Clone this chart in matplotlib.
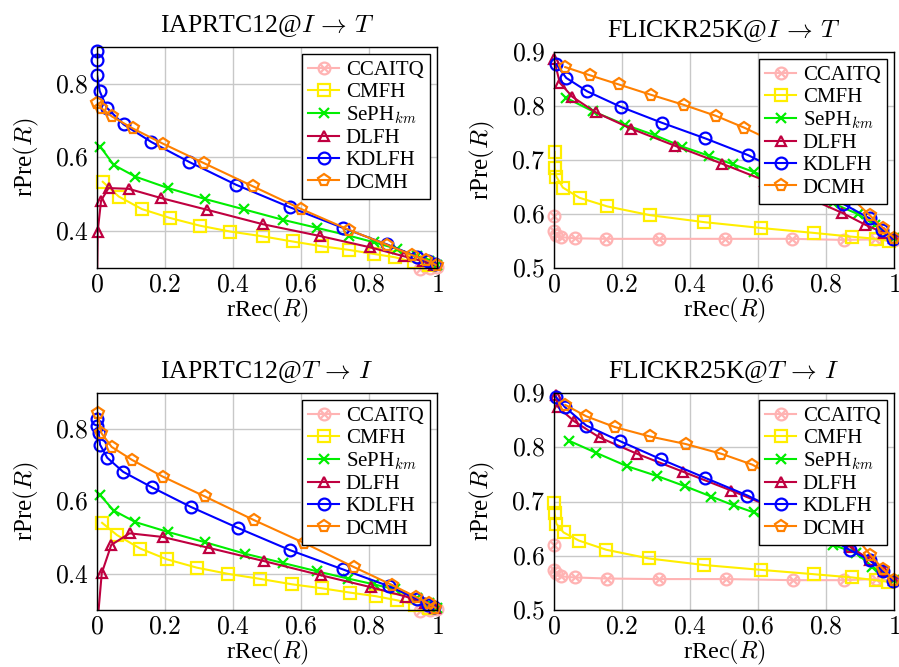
import numpy as np
import matplotlib
matplotlib.use('Agg')
import matplotlib.pyplot as plt
from matplotlib.lines import Line2D
from matplotlib.path import Path

plt.rcParams['font.family'] = ['Liberation Serif', 'DejaVu Serif']
plt.rcParams['mathtext.fontset'] = 'cm'

# ---------------- data: rPre(R) vs rRec(R) ----------------
methods = ['CCAITQ', 'CMFH', 'SePH$_{km}$', 'DLFH', 'KDLFH', 'DCMH']

# IAPRTC12, I -> T
iap_it_ccaitq_x = [0.0, 0.3, 0.6, 0.85, 0.95, 0.98, 1.0]
iap_it_ccaitq_y = [0.27, 0.275, 0.28, 0.29, 0.298, 0.300, 0.302]
iap_it_cmfh_x = [0.017, 0.064, 0.132, 0.214, 0.302, 0.392, 0.487, 0.575, 0.662, 0.742, 0.816, 0.877, 0.931, 0.975]
iap_it_cmfh_y = [0.534, 0.494, 0.460, 0.436, 0.415, 0.399, 0.386, 0.372, 0.359, 0.349, 0.338, 0.329, 0.316, 0.307]
iap_it_seph_x = [0.01, 0.049, 0.113, 0.209, 0.319, 0.433, 0.546, 0.647, 0.740, 0.814, 0.882, 0.94, 0.975, 1.0]
iap_it_seph_y = [0.629, 0.580, 0.548, 0.517, 0.487, 0.459, 0.431, 0.409, 0.388, 0.370, 0.352, 0.332, 0.318, 0.307]
iap_it_dlfh_x = [0.0, 0.002, 0.012, 0.034, 0.093, 0.188, 0.324, 0.487, 0.655, 0.804, 0.902, 0.96, 0.99]
iap_it_dlfh_y = [0.25, 0.399, 0.483, 0.517, 0.515, 0.490, 0.458, 0.419, 0.387, 0.356, 0.332, 0.318, 0.308]
iap_it_kdlfh_x = [0.0, 0.0, 0.0, 0.008, 0.029, 0.078, 0.160, 0.271, 0.409, 0.567, 0.723, 0.853, 0.941, 0.973, 0.995]
iap_it_kdlfh_y = [0.888, 0.866, 0.825, 0.780, 0.735, 0.690, 0.642, 0.588, 0.526, 0.465, 0.409, 0.364, 0.331, 0.318, 0.312]
iap_it_dcmh_x = [0.0, 0.011, 0.043, 0.105, 0.193, 0.316, 0.458, 0.601, 0.740, 0.853, 0.927, 0.969, 1.0]
iap_it_dcmh_y = [0.749, 0.735, 0.712, 0.679, 0.638, 0.584, 0.522, 0.460, 0.404, 0.363, 0.335, 0.321, 0.307]

# FLICKR25K, I -> T
fl_it_ccaitq_x = [0.0, 0.0, 0.007, 0.022, 0.061, 0.154, 0.308, 0.504, 0.701, 0.852, 0.945, 1.0]
fl_it_ccaitq_y = [0.597, 0.569, 0.562, 0.557, 0.555, 0.554, 0.554, 0.554, 0.554, 0.552, 0.553, 0.551]
fl_it_cmfh_x = [0.002, 0.002, 0.007, 0.026, 0.075, 0.157, 0.281, 0.441, 0.610, 0.764, 0.876, 0.948, 0.984]
fl_it_cmfh_y = [0.715, 0.686, 0.669, 0.649, 0.630, 0.614, 0.598, 0.585, 0.574, 0.565, 0.558, 0.554, 0.550]
fl_it_seph_x = [0.036, 0.115, 0.210, 0.296, 0.376, 0.455, 0.526, 0.587, 0.66, 0.74, 0.82, 0.893, 0.943, 1.0]
fl_it_seph_y = [0.815, 0.790, 0.765, 0.746, 0.725, 0.708, 0.692, 0.678, 0.66, 0.64, 0.62, 0.600, 0.580, 0.555]
fl_it_dlfh_x = [0.0, 0.017, 0.054, 0.123, 0.227, 0.357, 0.495, 0.62, 0.74, 0.848, 0.916, 0.97, 1.0]
fl_it_dlfh_y = [0.887, 0.843, 0.817, 0.788, 0.758, 0.726, 0.693, 0.662, 0.632, 0.602, 0.580, 0.565, 0.555]
fl_it_kdlfh_x = [0.007, 0.036, 0.098, 0.198, 0.317, 0.445, 0.571, 0.72, 0.85, 0.928, 0.966, 0.997]
fl_it_kdlfh_y = [0.877, 0.852, 0.827, 0.798, 0.769, 0.740, 0.709, 0.662, 0.619, 0.592, 0.571, 0.554]
fl_it_dcmh_x = [0.033, 0.105, 0.190, 0.284, 0.382, 0.475, 0.559, 0.66, 0.76, 0.85, 0.928, 0.968, 1.0]
fl_it_dcmh_y = [0.872, 0.857, 0.840, 0.821, 0.802, 0.782, 0.760, 0.73, 0.69, 0.645, 0.598, 0.574, 0.556]

# IAPRTC12, T -> I
iap_ti_ccaitq_x = [0.0, 0.3, 0.6, 0.85, 0.95, 0.98, 1.0]
iap_ti_ccaitq_y = [0.27, 0.275, 0.28, 0.29, 0.298, 0.300, 0.302]
iap_ti_cmfh_x = [0.015, 0.059, 0.127, 0.206, 0.294, 0.385, 0.480, 0.574, 0.662, 0.745, 0.821, 0.882, 0.936, 0.975]
iap_ti_cmfh_y = [0.541, 0.507, 0.470, 0.440, 0.417, 0.400, 0.386, 0.371, 0.360, 0.348, 0.338, 0.327, 0.315, 0.306]
iap_ti_seph_x = [0.01, 0.049, 0.113, 0.208, 0.319, 0.434, 0.547, 0.647, 0.738, 0.814, 0.877, 0.94, 0.975, 1.0]
iap_ti_seph_y = [0.617, 0.575, 0.543, 0.516, 0.487, 0.456, 0.430, 0.407, 0.387, 0.371, 0.357, 0.333, 0.318, 0.305]
iap_ti_dlfh_x = [0.0, 0.014, 0.042, 0.096, 0.193, 0.328, 0.492, 0.659, 0.806, 0.909, 0.966, 0.995]
iap_ti_dlfh_y = [0.25, 0.402, 0.480, 0.512, 0.502, 0.472, 0.435, 0.396, 0.363, 0.337, 0.318, 0.306]
iap_ti_kdlfh_x = [0.0, 0.0, 0.005, 0.009, 0.030, 0.077, 0.162, 0.276, 0.414, 0.569, 0.724, 0.858, 0.941, 0.974, 0.992]
iap_ti_kdlfh_y = [0.829, 0.808, 0.790, 0.757, 0.721, 0.682, 0.639, 0.585, 0.527, 0.465, 0.412, 0.366, 0.331, 0.315, 0.309]
iap_ti_dcmh_x = [0.002, 0.013, 0.043, 0.103, 0.193, 0.317, 0.463, 0.61, 0.755, 0.868, 0.938, 0.975, 0.995]
iap_ti_dcmh_y = [0.844, 0.789, 0.751, 0.715, 0.669, 0.614, 0.548, 0.485, 0.419, 0.369, 0.336, 0.318, 0.306]

# FLICKR25K, T -> I
fl_ti_ccaitq_x = [0.0, 0.0, 0.005, 0.020, 0.061, 0.156, 0.309, 0.507, 0.703, 0.852, 0.946, 1.0]
fl_ti_ccaitq_y = [0.620, 0.574, 0.568, 0.562, 0.560, 0.558, 0.557, 0.557, 0.555, 0.555, 0.557, 0.554]
fl_ti_cmfh_x = [0.0, 0.002, 0.007, 0.028, 0.073, 0.154, 0.279, 0.440, 0.608, 0.764, 0.877, 0.946, 0.982]
fl_ti_cmfh_y = [0.697, 0.678, 0.659, 0.643, 0.628, 0.611, 0.595, 0.583, 0.574, 0.566, 0.560, 0.555, 0.552]
fl_ti_seph_x = [0.044, 0.123, 0.215, 0.303, 0.386, 0.463, 0.528, 0.587, 0.66, 0.74, 0.82, 0.889, 0.936, 1.0]
fl_ti_seph_y = [0.812, 0.790, 0.765, 0.747, 0.728, 0.709, 0.693, 0.680, 0.66, 0.64, 0.62, 0.605, 0.580, 0.555]
fl_ti_dlfh_x = [0.005, 0.012, 0.059, 0.134, 0.244, 0.379, 0.522, 0.65, 0.77, 0.87, 0.93, 0.97, 1.0]
fl_ti_dlfh_y = [0.897, 0.874, 0.848, 0.818, 0.788, 0.755, 0.720, 0.687, 0.652, 0.617, 0.592, 0.572, 0.555]
fl_ti_kdlfh_x = [0.005, 0.032, 0.095, 0.195, 0.314, 0.443, 0.569, 0.72, 0.872, 0.928, 0.968, 0.997]
fl_ti_kdlfh_y = [0.893, 0.874, 0.840, 0.811, 0.778, 0.744, 0.711, 0.665, 0.610, 0.592, 0.571, 0.554]
fl_ti_dcmh_x = [0.033, 0.095, 0.180, 0.281, 0.387, 0.492, 0.583, 0.68, 0.78, 0.87, 0.930, 0.968, 1.0]
fl_ti_dcmh_y = [0.878, 0.857, 0.837, 0.820, 0.806, 0.788, 0.768, 0.735, 0.695, 0.648, 0.602, 0.575, 0.556]

# ---------------- styles ----------------
# circle with a diagonal cross (otimes)
d = np.sqrt(0.5)
cross = Path([[-d, -d], [d, d], [-d, d], [d, -d]],
             [Path.MOVETO, Path.LINETO, Path.MOVETO, Path.LINETO])
otimes = Path.make_compound_path(Path.unit_circle(), cross)

colors = ['#ffb3b3', '#ffee00', '#00ee00', '#bf0040', '#0000ff', '#ff8000']
markers = [otimes, 's', 'x', '^', 'o', 'p']
msizes = [8.5, 8.0, 6.5, 7.5, 8.5, 8.5]

arrow = '$\\,\\rightarrow\\,$'
panels = [
    ('IAPRTC12@$I$' + arrow + '$T$', (0.3, 0.9), [0.4, 0.6, 0.8],
     [(iap_it_ccaitq_x, iap_it_ccaitq_y), (iap_it_cmfh_x, iap_it_cmfh_y),
      (iap_it_seph_x, iap_it_seph_y), (iap_it_dlfh_x, iap_it_dlfh_y),
      (iap_it_kdlfh_x, iap_it_kdlfh_y), (iap_it_dcmh_x, iap_it_dcmh_y)]),
    ('FLICKR25K@$I$' + arrow + '$T$', (0.5, 0.9), [0.5, 0.6, 0.7, 0.8, 0.9],
     [(fl_it_ccaitq_x, fl_it_ccaitq_y), (fl_it_cmfh_x, fl_it_cmfh_y),
      (fl_it_seph_x, fl_it_seph_y), (fl_it_dlfh_x, fl_it_dlfh_y),
      (fl_it_kdlfh_x, fl_it_kdlfh_y), (fl_it_dcmh_x, fl_it_dcmh_y)]),
    ('IAPRTC12@$T$' + arrow + '$I$', (0.3, 0.9), [0.4, 0.6, 0.8],
     [(iap_ti_ccaitq_x, iap_ti_ccaitq_y), (iap_ti_cmfh_x, iap_ti_cmfh_y),
      (iap_ti_seph_x, iap_ti_seph_y), (iap_ti_dlfh_x, iap_ti_dlfh_y),
      (iap_ti_kdlfh_x, iap_ti_kdlfh_y), (iap_ti_dcmh_x, iap_ti_dcmh_y)]),
    ('FLICKR25K@$T$' + arrow + '$I$', (0.5, 0.9), [0.5, 0.6, 0.7, 0.8, 0.9],
     [(fl_ti_ccaitq_x, fl_ti_ccaitq_y), (fl_ti_cmfh_x, fl_ti_cmfh_y),
      (fl_ti_seph_x, fl_ti_seph_y), (fl_ti_dlfh_x, fl_ti_dlfh_y),
      (fl_ti_kdlfh_x, fl_ti_kdlfh_y), (fl_ti_dcmh_x, fl_ti_dcmh_y)]),
]

# axes boxes in pixels: left, top, right, bottom
W, H = 899, 667
boxes = [(97, 47, 437, 268), (554, 52, 894, 268),
         (97, 393, 437, 610), (554, 393, 894, 610)]

fig = plt.figure(figsize=(W / 100, H / 100), dpi=100, facecolor='white')

for (title, ylim, yticks, series), (l, t, r, b) in zip(panels, boxes):
    ax = fig.add_axes([l / W, (H - b) / H, (r - l) / W, (b - t) / H])

    for i, (xs, ys) in enumerate(series):
        xs = np.asarray(xs)
        ys = np.asarray(ys)
        ax.plot(xs, ys, color=colors[i], lw=1.5, zorder=3 + i)
        # marks inside the y range are drawn without clipping
        keep = ys >= ylim[0] - 0.004
        ax.plot(xs[keep], ys[keep], ls='none', marker=markers[i],
                ms=msizes[i], mfc='none', mec=colors[i], mew=1.6,
                clip_on=False, zorder=3 + i)

    ax.set_xlim(0, 1)
    ax.set_ylim(*ylim)
    xt = [0, 0.2, 0.4, 0.6, 0.8, 1]
    ax.set_xticks(xt, labels=['$%g$' % v for v in xt])
    ax.set_yticks(yticks, labels=['$%g$' % v for v in yticks])
    ax.tick_params(direction='in', length=0, labelsize=18.5)
    ax.tick_params(axis='x', pad=5)
    ax.tick_params(axis='y', pad=6)
    ax.grid(True, color='#c8c8c8', lw=1.0)
    ax.set_axisbelow(True)
    for s in ax.spines.values():
        s.set_linewidth(1.0)
        s.set_zorder(20)

    ax.set_title(title, fontsize=18.5, pad=11)
    ax.set_xlabel('rRec$(R)$', fontsize=17.5, labelpad=-1)
    ax.set_ylabel('rPre$(R)$', fontsize=18, labelpad=10)

    handles = [Line2D([], [], color=colors[i], lw=1.5, marker=markers[i],
                      ms=msizes[i], mfc='none', mec=colors[i], mew=1.6)
               for i in range(len(methods))]
    leg = ax.legend(handles, methods, loc='upper right', fontsize=15,
                    frameon=True, fancybox=False, framealpha=1,
                    edgecolor='black', borderaxespad=0.35,
                    handlelength=1.5, handletextpad=0.3,
                    labelspacing=0.12, borderpad=0.3)
    leg.get_frame().set_linewidth(1.0)
    leg.set_zorder(30)

fig.savefig('out.png', dpi=100, facecolor='white')
plt.close()
